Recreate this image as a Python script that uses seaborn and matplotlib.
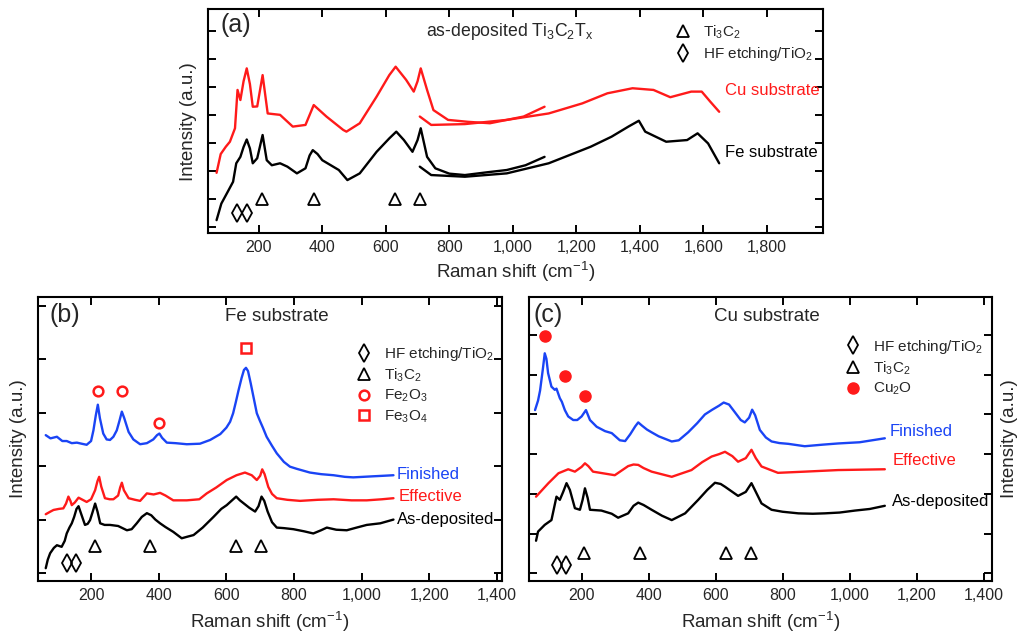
import matplotlib
matplotlib.use("Agg")
import matplotlib.pyplot as plt
from matplotlib.lines import Line2D
from matplotlib.ticker import FuncFormatter, FixedLocator
import seaborn as sns
import pandas as pd

# ---------------- data ----------------
# Panel (a): as-deposited Ti3C2Tx, two spectral windows per substrate
a_fe1_x = [67, 82, 102, 119, 129, 142, 152, 162, 172, 181, 195, 212, 225, 241, 267, 290, 320, 347, 360, 370, 385, 400, 452, 479, 518, 571, 611, 633, 657, 684, 700, 710, 730, 756, 800, 849, 920, 981, 1040, 1100]
a_fe1_y = [0.24, 0.83, 1.25, 1.61, 2.27, 2.5, 2.85, 3.12, 2.8, 2.27, 2.45, 3.28, 2.38, 2.2, 2.27, 2.15, 1.91, 2.09, 2.55, 2.74, 2.6, 2.38, 2.03, 1.67, 1.91, 2.68, 3.16, 3.4, 3.1, 2.68, 3.1, 3.52, 2.5, 2.09, 1.9, 1.85, 1.95, 2.03, 2.2, 2.5]
a_fe2_x = [707, 743, 849, 981, 1113, 1245, 1311, 1364, 1397, 1417, 1483, 1549, 1582, 1615, 1650]
a_fe2_y = [2.15, 1.85, 1.79, 1.91, 2.27, 2.86, 3.22, 3.58, 3.79, 3.4, 3.04, 3.1, 3.34, 2.98, 2.27]
a_cu1_x = [67, 80, 96, 109, 125, 133, 142, 152, 162, 172, 181, 195, 212, 228, 267, 307, 347, 373, 413, 466, 476, 518, 571, 611, 631, 664, 688, 700, 710, 730, 750, 796, 860, 928, 1034, 1100]
a_cu1_y = [1.93, 2.6, 2.86, 3.04, 3.52, 4.89, 4.53, 5.2, 5.66, 5.1, 4.29, 4.3, 5.42, 4.05, 4.0, 3.58, 3.64, 4.35, 3.94, 3.46, 3.4, 3.7, 4.65, 5.42, 5.72, 5.25, 4.83, 5.2, 5.66, 4.89, 4.17, 3.82, 3.75, 3.7, 3.94, 4.29]
a_cu2_x = [707, 743, 849, 981, 1113, 1219, 1298, 1377, 1443, 1496, 1562, 1595, 1622, 1650]
a_cu2_y = [3.94, 3.64, 3.67, 3.82, 4.05, 4.41, 4.77, 4.95, 4.89, 4.63, 4.83, 4.83, 4.47, 4.11]
a_tri_x = [210, 375, 630, 708]
a_tri_y = [1.0, 1.0, 1.0, 1.0]
a_dia_x = [131, 162]
a_dia_y = [0.5, 0.5]

# Panel (b): Fe substrate
b_as_x = [66, 72, 79, 90, 99, 113, 122, 128, 136, 143, 150, 157, 163, 170, 182, 190, 197, 205, 212, 219, 227, 240, 256, 280, 306, 320, 335, 350, 365, 378, 390, 404, 420, 443, 468, 485, 503, 530, 562, 585, 601, 615, 629, 640, 652, 668, 685, 695, 704, 712, 722, 735, 749, 770, 798, 830, 857, 880, 897, 925, 956, 985, 1015, 1055, 1094]
b_as_y = [0.09, 0.25, 0.37, 0.47, 0.52, 0.49, 0.6, 0.74, 0.85, 0.93, 1.05, 1.2, 1.25, 1.12, 0.9, 0.92, 0.99, 1.15, 1.3, 1.15, 0.93, 0.9, 0.9, 0.88, 0.8, 0.82, 0.93, 1.05, 1.12, 1.08, 1.0, 0.93, 0.86, 0.77, 0.65, 0.68, 0.71, 0.85, 1.05, 1.2, 1.27, 1.35, 1.43, 1.36, 1.3, 1.22, 1.15, 1.25, 1.43, 1.35, 1.15, 0.95, 0.85, 0.84, 0.82, 0.78, 0.74, 0.8, 0.85, 0.81, 0.8, 0.85, 0.9, 0.93, 1.0]
b_ef_x = [66, 80, 89, 105, 118, 126, 133, 139, 143, 152, 163, 175, 187, 200, 212, 219, 224, 230, 241, 255, 266, 280, 286, 291, 297, 311, 330, 345, 365, 385, 404, 420, 443, 483, 520, 542, 570, 601, 630, 655, 675, 690, 700, 706, 713, 724, 735, 749, 780, 818, 870, 917, 970, 1015, 1060, 1094]
b_ef_y = [1.1, 1.15, 1.18, 1.2, 1.21, 1.3, 1.43, 1.35, 1.27, 1.32, 1.41, 1.37, 1.33, 1.38, 1.55, 1.72, 1.8, 1.62, 1.4, 1.38, 1.38, 1.45, 1.6, 1.69, 1.55, 1.4, 1.37, 1.35, 1.49, 1.47, 1.5, 1.45, 1.36, 1.36, 1.38, 1.49, 1.6, 1.74, 1.83, 1.88, 1.83, 1.74, 1.82, 1.94, 1.85, 1.61, 1.48, 1.4, 1.37, 1.35, 1.37, 1.38, 1.36, 1.36, 1.38, 1.4]
b_fi_x = [66, 80, 99, 115, 128, 143, 158, 172, 187, 200, 207, 214, 220, 226, 236, 246, 256, 266, 276, 284, 291, 298, 311, 325, 345, 365, 384, 395, 402, 410, 424, 450, 483, 522, 552, 582, 600, 611, 620, 628, 636, 645, 652, 658, 664, 672, 680, 690, 699, 708, 719, 735, 749, 770, 788, 808, 847, 880, 917, 950, 975, 1005, 1034, 1065, 1094]
b_fi_y = [2.58, 2.52, 2.55, 2.47, 2.47, 2.43, 2.44, 2.42, 2.4, 2.47, 2.67, 2.95, 3.15, 2.9, 2.61, 2.5, 2.49, 2.55, 2.67, 2.85, 3.02, 2.9, 2.64, 2.5, 2.41, 2.43, 2.5, 2.58, 2.61, 2.53, 2.44, 2.43, 2.41, 2.42, 2.49, 2.6, 2.72, 2.83, 2.99, 3.2, 3.42, 3.65, 3.8, 3.84, 3.78, 3.55, 3.3, 2.99, 2.85, 2.72, 2.55, 2.38, 2.24, 2.08, 1.99, 1.95, 1.88, 1.85, 1.83, 1.8, 1.79, 1.8, 1.81, 1.82, 1.83]
b_tri_x = [212, 375, 629, 703]
b_tri_y = [0.5, 0.5, 0.5, 0.5]
b_dia_x = [130, 156]
b_dia_y = [0.19, 0.19]
b_fe2o3_x = [220, 291, 402]
b_fe2o3_y = [3.41, 3.41, 2.81]
b_fe3o4_x = [657]
b_fe3o4_y = [4.21]

# Panel (c): Cu substrate
c_as_x = [64, 70, 90, 110, 125, 135, 145, 155, 165, 180, 195, 203, 210, 218, 225, 259, 290, 309, 339, 355, 369, 385, 409, 440, 469, 509, 548, 575, 598, 615, 628, 650, 667, 690, 707, 720, 737, 767, 800, 847, 890, 926, 970, 1016, 1060, 1105]
c_as_y = [0.82, 1.05, 1.22, 1.34, 1.93, 1.85, 2.05, 2.27, 2.1, 1.64, 1.6, 1.85, 2.14, 1.9, 1.6, 1.58, 1.5, 1.4, 1.51, 1.7, 1.78, 1.72, 1.6, 1.45, 1.34, 1.51, 1.85, 2.1, 2.28, 2.25, 2.18, 2.05, 1.95, 2.05, 2.27, 2.05, 1.76, 1.6, 1.55, 1.51, 1.5, 1.51, 1.53, 1.58, 1.62, 1.7]
c_ef_x = [64, 101, 131, 160, 180, 200, 210, 220, 234, 299, 339, 355, 369, 385, 409, 469, 528, 560, 588, 610, 628, 650, 667, 690, 707, 720, 737, 786, 866, 966, 1105]
c_ef_y = [1.93, 2.27, 2.52, 2.62, 2.56, 2.68, 2.77, 2.7, 2.56, 2.47, 2.7, 2.74, 2.73, 2.65, 2.56, 2.43, 2.6, 2.8, 2.94, 3.0, 3.06, 2.95, 2.81, 2.9, 3.11, 2.9, 2.69, 2.53, 2.56, 2.6, 2.62]
c_fi_x = [61, 70, 76, 84, 90, 95, 100, 110, 120, 125, 135, 141, 150, 160, 175, 187, 200, 213, 225, 245, 270, 290, 314, 330, 345, 360, 369, 380, 395, 409, 430, 469, 490, 518, 545, 568, 590, 610, 624, 640, 658, 675, 687, 700, 709, 718, 732, 750, 767, 790, 817, 866, 920, 966, 1030, 1105]
c_fi_y = [4.11, 4.35, 4.6, 5.12, 5.54, 5.4, 5.04, 4.7, 4.62, 4.65, 4.41, 4.32, 4.11, 3.95, 3.86, 3.86, 3.95, 4.11, 3.86, 3.69, 3.58, 3.53, 3.35, 3.33, 3.5, 3.7, 3.8, 3.72, 3.62, 3.55, 3.45, 3.32, 3.35, 3.55, 3.78, 4.0, 4.12, 4.22, 4.3, 4.25, 4.05, 3.86, 3.8, 3.92, 4.12, 3.98, 3.61, 3.42, 3.32, 3.28, 3.26, 3.2, 3.24, 3.27, 3.3, 3.4]
c_tri_x = [208, 374, 630, 705]
c_tri_y = [0.52, 0.52, 0.52, 0.52]
c_dia_x = [127, 153]
c_dia_y = [0.21, 0.21]
c_cu2o_x = [92, 150, 210]
c_cu2o_y = [5.98, 4.97, 4.47]

xticks_a = [200, 400, 600, 800, 1000, 1200, 1400, 1600, 1800]
xticks_bc = [200, 400, 600, 800, 1000, 1200, 1400]

RED = "#ff1a1a"
BLUE = "#1a44f5"
BLACK = "#000000"

# ---------------- style ----------------
sns.set_theme(style="ticks")
plt.rcParams["font.family"] = ["Liberation Sans", "DejaVu Sans"]
plt.rcParams["mathtext.fontset"] = "custom"
plt.rcParams["mathtext.rm"] = "Liberation Sans"
plt.rcParams["mathtext.it"] = "Liberation Sans:italic"
plt.rcParams["mathtext.default"] = "regular"

fig = plt.figure(figsize=(10.18, 6.36), dpi=100)
W, H = 1018, 636


def axes_px(l, t, r, b):
    return fig.add_axes([l / W, 1 - b / H, (r - l) / W, (b - t) / H])


ax_a = axes_px(208, 9.3, 822.7, 233)
ax_b = axes_px(38.3, 297.3, 501.7, 580.7)
ax_c = axes_px(529, 297.3, 991.7, 580.7)

fmt = FuncFormatter(lambda v, p: f"{v:,.0f}")


def style(ax, xlim, ylim, xt, yt):
    ax.set_xlim(*xlim)
    ax.set_ylim(*ylim)
    ax.xaxis.set_major_locator(FixedLocator(xt))
    ax.xaxis.set_major_formatter(fmt)
    ax.yaxis.set_major_locator(FixedLocator(yt))
    ax.tick_params(axis="both", which="major", direction="in", top=True, right=True,
                   length=6, width=1.4, labelsize=11.5, pad=5, color="black")
    ax.tick_params(axis="y", labelleft=False, labelright=False)
    for s in ax.spines.values():
        s.set_linewidth(1.5)
        s.set_color("black")
    ax.set_facecolor("white")
    ax.set_xlabel("Raman shift (cm$^{-1}$)", fontsize=13.5)
    ax.set_ylabel("Intensity (a.u.)", fontsize=13.5)


def curve(ax, x, y, color):
    df = pd.DataFrame({"x": x, "y": y})
    sns.lineplot(data=df, x="x", y="y", ax=ax, color=color, lw=1.7, sort=False, estimator=None)


def tri(ax, x, y):
    ax.plot(x, y, ls="none", marker="^", ms=9, mfc="none", mec="black", mew=1.3)


def dia(ax, x, y):
    ax.plot(x, y, ls="none", marker="d", ms=9, mfc="none", mec="black", mew=1.3)


tri_h = Line2D([], [], ls="none", marker="^", ms=8.5, mfc="none", mec="black", mew=1.3)
dia_h = Line2D([], [], ls="none", marker="d", ms=9, mfc="none", mec="black", mew=1.3)

legend_kw = dict(frameon=False, loc="upper left", fontsize=11, handlelength=1.0,
                 handletextpad=0.8, borderpad=0, borderaxespad=0, labelspacing=0.25)

# ---------------- panel (a) ----------------
ax = ax_a
curve(ax, a_cu1_x, a_cu1_y, RED)
curve(ax, a_cu2_x, a_cu2_y, RED)
curve(ax, a_fe1_x, a_fe1_y, BLACK)
curve(ax, a_fe2_x, a_fe2_y, BLACK)
tri(ax, a_tri_x, a_tri_y)
dia(ax, a_dia_x, a_dia_y)
style(ax, (40, 1976), (-0.22, 7.77), xticks_a, range(8))
ax.xaxis.set_label_coords(0.5, -0.12)
ax.yaxis.set_label_coords(-0.018, 0.5)
ax.text(0.046, 0.93, "(a)", transform=ax.transAxes, fontsize=18, ha="center", va="center")
ax.text(0.49, 0.90, "as-deposited Ti$_3$C$_2$T$_x$", transform=ax.transAxes, fontsize=12.7,
        ha="center", va="center")
ax.text(1669, 4.86, "Cu substrate", color=RED, fontsize=12, ha="left", va="center")
ax.text(1669, 2.66, "Fe substrate", color=BLACK, fontsize=12, ha="left", va="center")
ax.legend([tri_h, dia_h], ["Ti$_3$C$_2$", "HF etching/TiO$_2$"],
          bbox_to_anchor=(0.760, 0.935), **legend_kw)

# ---------------- panel (b) ----------------
ax = ax_b
curve(ax, b_fi_x, b_fi_y, BLUE)
curve(ax, b_ef_x, b_ef_y, RED)
curve(ax, b_as_x, b_as_y, BLACK)
tri(ax, b_tri_x, b_tri_y)
dia(ax, b_dia_x, b_dia_y)
ax.plot(b_fe2o3_x, b_fe2o3_y, ls="none", marker="o", ms=7, mfc="none", mec=RED, mew=1.8)
ax.plot(b_fe3o4_x, b_fe3o4_y, ls="none", marker="s", ms=7, mfc="none", mec=RED, mew=1.8)
style(ax, (44, 1414), (-0.144, 5.16), xticks_bc, range(6))
ax.xaxis.set_label_coords(0.5, -0.102)
ax.yaxis.set_label_coords(-0.025, 0.5)
ax.text(0.058, 0.9375, "(b)", transform=ax.transAxes, fontsize=18, ha="center", va="center")
ax.text(0.5145, 0.932, "Fe substrate", transform=ax.transAxes, fontsize=13.5, ha="center", va="center")
ax.text(1104, 1.845, "Finished", color=BLUE, fontsize=12, ha="left", va="center")
ax.text(1108, 1.44, "Effective", color=RED, fontsize=12, ha="left", va="center")
ax.text(1104, 1.0, "As-deposited", color=BLACK, fontsize=12, ha="left", va="center")
h_fe2o3 = Line2D([], [], ls="none", marker="o", ms=7, mfc="none", mec=RED, mew=1.8)
h_fe3o4 = Line2D([], [], ls="none", marker="s", ms=7, mfc="none", mec=RED, mew=1.8)
ax.legend([dia_h, tri_h, h_fe2o3, h_fe3o4],
          ["HF etching/TiO$_2$", "Ti$_3$C$_2$", "Fe$_2$O$_3$", "Fe$_3$O$_4$"],
          bbox_to_anchor=(0.6865, 0.832), **legend_kw)

# ---------------- panel (c) ----------------
ax = ax_c
curve(ax, c_fi_x, c_fi_y, BLUE)
curve(ax, c_ef_x, c_ef_y, RED)
curve(ax, c_as_x, c_as_y, BLACK)
tri(ax, c_tri_x, c_tri_y)
dia(ax, c_dia_x, c_dia_y)
ax.plot(c_cu2o_x, c_cu2o_y, ls="none", marker="o", ms=8, mfc=RED, mec=RED)
style(ax, (43, 1424), (-0.186, 6.95), xticks_bc, range(7))
ax.yaxis.set_label_position("right")
ax.xaxis.set_label_coords(0.5, -0.102)
ax.yaxis.set_label_coords(1.02, 0.5)
ax.text(0.042, 0.9375, "(c)", transform=ax.transAxes, fontsize=18, ha="center", va="center")
ax.text(0.5137, 0.932, "Cu substrate", transform=ax.transAxes, fontsize=13.5, ha="center", va="center")
ax.text(1120, 3.57, "Finished", color=BLUE, fontsize=12, ha="left", va="center")
ax.text(1128, 2.84, "Effective", color=RED, fontsize=12, ha="left", va="center")
ax.text(1125, 1.80, "As-deposited", color=BLACK, fontsize=12, ha="left", va="center")
h_cu2o = Line2D([], [], ls="none", marker="o", ms=8, mfc=RED, mec=RED)
ax.legend([dia_h, tri_h, h_cu2o], ["HF etching/TiO$_2$", "Ti$_3$C$_2$", "Cu$_2$O"],
          bbox_to_anchor=(0.6845, 0.857), **legend_kw)

fig.savefig("out.png", dpi=100, facecolor="white")
